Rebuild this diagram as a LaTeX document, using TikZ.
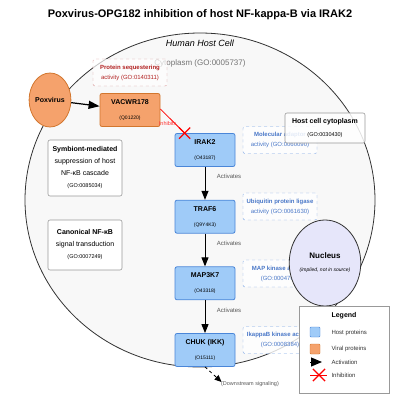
\documentclass[tikz,border=0pt]{standalone}
\usepackage{fontspec}
\setmainfont{Liberation Sans}
\usepackage{xcolor}
\usepackage{tikz}
\usetikzlibrary{arrows.meta,shapes.geometric,shapes.misc}

\definecolor{hostfill}{HTML}{9FCBF8}
\definecolor{hostdraw}{HTML}{4A86D8}
\definecolor{viralfill}{HTML}{F5A26C}
\definecolor{viraldraw}{HTML}{D2762E}
\definecolor{gotext}{HTML}{4A78C8}
\definecolor{godash}{HTML}{7FA8E6}
\definecolor{seqred}{HTML}{B22222}
\definecolor{seqdash}{HTML}{D89A9A}
\definecolor{cellfill}{HTML}{F8F8F8}
\definecolor{celldraw}{HTML}{333333}
\definecolor{nucfill}{HTML}{E6E6FA}

\newcommand{\prot}[2]{{\fontsize{7}{8}\selectfont\bfseries #1}\\[3pt]{\fontsize{5}{6}\selectfont #2}}

\begin{document}
\begin{tikzpicture}[x=1pt,y=-1pt,
  host/.style={draw=hostdraw,fill=hostfill,line width=0.8pt,rounded corners=2pt,minimum width=60pt,minimum height=33pt,inner sep=0pt,align=center},
  viral/.style={host,draw=viraldraw,fill=viralfill},
  gobox/.style={draw=godash,dashed,fill=white,fill opacity=0.8,text opacity=1,rounded corners=2pt,minimum width=74pt,minimum height=27pt,inner sep=0pt,align=center,text=gotext,font=\fontsize{6}{10}\selectfont},
  procbox/.style={draw=gray!80,fill=white,line width=0.6pt,rounded corners=2pt,minimum width=74pt,inner sep=0pt,align=center,font=\fontsize{7}{12}\selectfont},
  act/.style={-{Triangle[length=9pt,width=7pt]},line width=1pt},
  lbl/.style={font=\fontsize{6}{7}\selectfont,text=black!65},
  xmark/.style={cross out,draw=red,line width=1.2pt,minimum size=10pt,inner sep=0pt}]
\useasboundingbox (0,0) rectangle (400,400);

\node[font=\fontsize{11}{13}\selectfont\bfseries] (title) at (200,15) {Poxvirus-OPG182 inhibition of host NF-kappa-B via IRAK2};

% cell
\node[ellipse,draw=celldraw,fill=cellfill,line width=0.8pt,minimum width=350pt,minimum height=334pt,inner sep=0pt] (cell) at (200,200) {};
\node[font=\fontsize{9}{10}\selectfont\itshape] (celllbl) at (200,43) {Human Host Cell};
\node[font=\fontsize{8}{9}\selectfont,text=black!55] (cyto) at (200,63) {Cytoplasm (GO:0005737)};

\node[draw=seqdash,dashed,fill=white,fill opacity=0.7,text opacity=1,rounded corners=2pt,minimum width=74pt,minimum height=27pt,inner sep=0pt,align=center,text=seqred,font=\fontsize{6}{10}\selectfont] (seq) at (130,72.5) {\textbf{Protein sequestering}\\activity (GO:0140311)};

% virus
\node[ellipse,draw=viraldraw,fill=viralfill,line width=0.8pt,minimum width=40pt,minimum height=54pt,inner sep=0pt,font=\fontsize{7}{8}\selectfont\bfseries] (pox) at (50,100) {Poxvirus};
\node[viral] (vacwr) at (130,110) {\prot{VACWR178}{(Q01220)}};
\draw[-{Triangle[length=11pt,width=8pt]},line width=1.2pt] (pox) -- (vacwr);

% processes
\node[procbox,minimum height=56pt] (symb) at (85,168) {\textbf{Symbiont-mediated}\\suppression of host\\NF-κB cascade\\{\fontsize{5.5}{7}\selectfont (GO:0085034)}};
\node[procbox,minimum height=50pt] (canon) at (85,245) {\textbf{Canonical NF-κB}\\signal transduction\\{\fontsize{5.5}{7}\selectfont (GO:0007249)}};

% activities
\node[gobox] (go1) at (280,140) {\textbf{Molecular adaptor}\\activity (GO:0060090)};
\node[gobox] (go2) at (280,206.5) {\textbf{Ubiquitin protein ligase}\\activity (GO:0061630)};
\node[gobox] (go3) at (280,273.5) {\textbf{MAP kinase activity}\\(GO:0004709)};
\node[gobox] (go4) at (280,340) {\textbf{IkappaB kinase activity}\\(GO:0008384)};

% host proteins
\node[host] (irak2) at (205,150) {\prot{IRAK2}{(O43187)}};
\node[host] (traf6) at (205,216.7) {\prot{TRAF6}{(Q9Y4K3)}};
\node[host] (map3k7) at (205,283.3) {\prot{MAP3K7}{(O43318)}};
\node[host] (chuk) at (205,350) {\prot{CHUK (IKK)}{(O15111)}};

\draw[act] (irak2) -- (traf6) node[lbl,pos=0.3,anchor=west,xshift=8pt] {Activates};
\draw[act] (traf6) -- (map3k7) node[lbl,pos=0.3,anchor=west,xshift=8pt] {Activates};
\draw[act] (map3k7) -- (chuk) node[lbl,pos=0.3,anchor=west,xshift=8pt] {Activates};

% inhibition
\coordinate (hit) at ([xshift=10pt]irak2.north west);
\draw[red,line width=0.8pt] ([yshift=1pt]vacwr.east) -- (hit) node[pos=0.3,anchor=north,yshift=-2pt,font=\fontsize{5.5}{6}\selectfont,text=red!80] {Inhibits};
\node[xmark] (hitx) at (hit) {};

\node[lbl,font=\fontsize{5.5}{6}\selectfont] (downlbl) at (250,384) {(Downstream signaling)};
\draw[dashed,-{Triangle[length=7pt,width=6pt]},line width=0.8pt] (chuk.south) -- ([xshift=4pt,yshift=2pt]downlbl.west);

\node[draw=gray!80,fill=white,fill opacity=0.85,text opacity=1,line width=0.6pt,rounded corners=2pt,minimum width=80pt,minimum height=30pt,inner sep=0pt,align=center,font=\fontsize{7}{13}\selectfont] (hostcyto) at (325,128) {\textbf{Host cell cytoplasm}\\{\fontsize{5.5}{7}\selectfont (GO:0030430)}};

\node[ellipse,draw=celldraw,fill=nucfill,line width=0.8pt,minimum width=70pt,minimum height=86pt,inner sep=0pt,align=center,font=\fontsize{8}{9}\selectfont] (nuc) at (325,263) {\textbf{Nucleus}\\[4pt]{\fontsize{5}{6}\selectfont\itshape (implied, not in source)}};

% legend
\node[draw=gray!80,fill=white,line width=0.6pt,minimum width=90pt,minimum height=87pt,inner sep=0pt] (legend) at (344,349.5) {};
\node[font=\fontsize{7}{8}\selectfont\bfseries] (legtitle) at (344,316) {Legend};
\node[draw=hostdraw,fill=hostfill,minimum size=10pt,inner sep=0pt,rounded corners=1pt] (leghost) at (315,332) {};
\node[lbl,text=black!80,anchor=west] (leghostlbl) at (328,333) {Host proteins};
\node[draw=viraldraw,fill=viralfill,minimum size=10pt,inner sep=0pt,rounded corners=1pt] (legviral) at (315,349) {};
\node[lbl,text=black!80,anchor=west] (legvirallbl) at (328,349) {Viral proteins};
\coordinate (legact) at (310,362);
\draw[-{Triangle[length=11pt,width=9pt]},line width=1pt] (legact) -- ++(12,0);
\node[lbl,text=black!80,anchor=west] (legactlbl) at (328,362) {Activation};
\draw[red,line width=0.8pt] (310,375) -- (327,375);
\node[xmark,minimum size=11pt] (leginh) at (319,375) {};
\node[lbl,text=black!80,anchor=west] (leginhlbl) at (328,375) {Inhibition};
\end{tikzpicture}
\end{document}
